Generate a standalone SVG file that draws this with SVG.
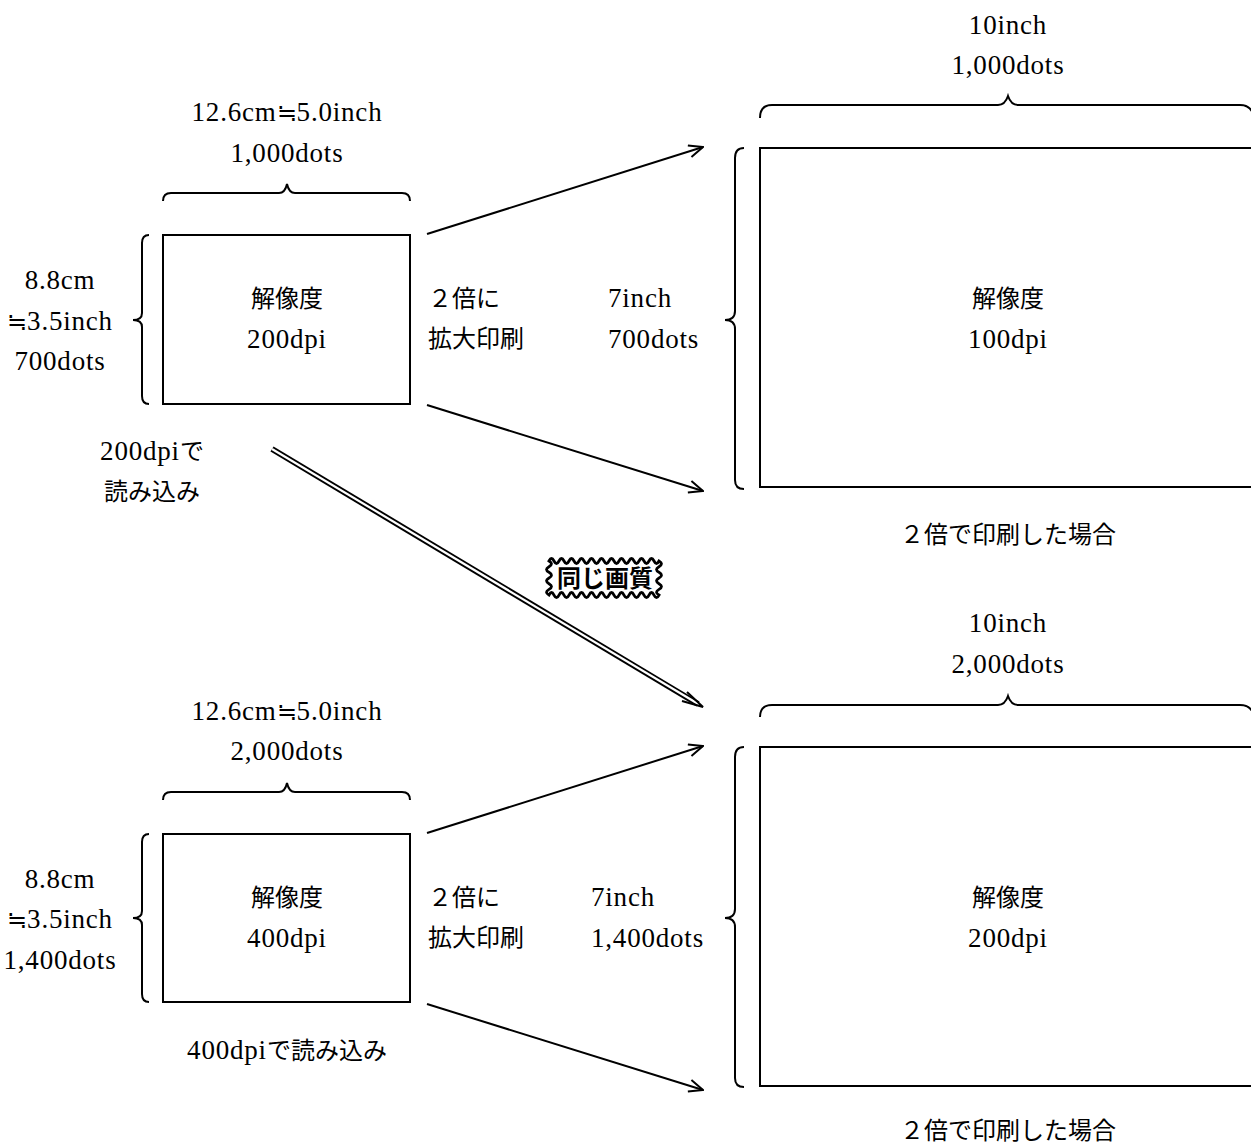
<svg xmlns="http://www.w3.org/2000/svg" width="1251" height="1144" viewBox="0 0 1251 1144">
<defs>
<style>
.t{font-family:"Liberation Serif","Noto Sans CJK JP",serif;font-size:24px;fill:#000}
.m{text-anchor:middle}
.l{font-size:27px;letter-spacing:0.8px}
.b{fill:none;stroke:#000;stroke-width:2}
.box{fill:#fff;stroke:#000;stroke-width:2}
.ar{fill:none;stroke:#000;stroke-width:2}
</style>
<marker id="open" viewBox="0 0 16 14" refX="15" refY="7" markerWidth="16" markerHeight="14" markerUnits="userSpaceOnUse" orient="auto">
<path d="M1,1 L15,7 L1,13" fill="none" stroke="#000" stroke-width="2"/>
</marker>
</defs>
<rect width="1251" height="1144" fill="#fff"/>

<g id="connectors">
<line class="ar" x1="427" y1="234" x2="703" y2="147" marker-end="url(#open)"/>
<line class="ar" x1="427" y1="405" x2="703" y2="491" marker-end="url(#open)"/>
<line class="ar" x1="427" y1="833" x2="703" y2="746" marker-end="url(#open)"/>
<line class="ar" x1="427" y1="1004" x2="703" y2="1090" marker-end="url(#open)"/>
<line x1="272" y1="449" x2="698" y2="704" stroke="#000" stroke-width="6"/>
<line x1="272" y1="449" x2="700" y2="705" stroke="#fff" stroke-width="2.2"/>
<path d="M687,692 L703,707 L682,701" fill="none" stroke="#000" stroke-width="2"/>
</g>

<g id="top-small">
<rect class="box" x="163" y="235" width="247" height="169"/>
<text class="t m" x="287" y="307">解像度</text>
<text class="t m l" x="287" y="348">200dpi</text>
<path class="b" d="M163,201 Q163,193 171,193 L279,193 Q285,193 287,184 Q289,193 295,193 L402,193 Q410,193 410,201"/>
<text class="t m" x="287" y="121"><tspan class="l">12.6cm</tspan>≒<tspan class="l">5.0inch</tspan></text>
<text class="t m l" x="287" y="162">1,000dots</text>
<path class="b" d="M149,235 Q142,235 142,243 L142,313 Q142,320 133,320 Q142,320 142,327 L142,396 Q142,404 149,404"/>
<text class="t m l" x="60" y="289">8.8cm</text>
<text class="t m" x="60" y="330">≒<tspan class="l">3.5inch</tspan></text>
<text class="t m l" x="60" y="370">700dots</text>
<text class="t m" x="152" y="460"><tspan class="l">200dpi</tspan>で</text>
<text class="t m" x="152" y="500">読み込み</text>
</g>

<g id="top-mid-labels">
<text class="t" x="428" y="307">２倍に</text>
<text class="t" x="428" y="347">拡大印刷</text>
<text class="t l" x="608" y="307">7inch</text>
<text class="t l" x="608" y="348">700dots</text>
</g>

<g id="top-large">
<rect class="box" x="760" y="148" width="500" height="339"/>
<text class="t m" x="1008" y="307">解像度</text>
<text class="t m l" x="1008" y="348">100dpi</text>
<path class="b" d="M760,118 Q760,105 772,105 L998,105 Q1005,105 1008,96 Q1011,105 1018,105 L1240,105 Q1252,105 1254,118"/>
<text class="t m l" x="1008" y="34">10inch</text>
<text class="t m l" x="1008" y="74">1,000dots</text>
<path class="b" d="M744,148 Q735,148 735,158 L735,311 Q735,320 725,320 Q735,320 735,329 L735,480 Q735,489 744,489"/>
<text class="t m" x="1008" y="543">２倍で印刷した場合</text>
</g>

<g id="same-quality">
<path fill="#fff" stroke="#000" stroke-width="2.8" d="M549,561 q2.5,-5 5,0 t5,0 t5,0 t5,0 t5,0 t5,0 t5,0 t5,0 t5,0 t5,0 t5,0 t5,0 t5,0 t5,0 t5,0 t5,0 t5,0 t5,0 t5,0 t5,0 t5,0 t5,0 q5,2.83 0,5.67 t0,5.67 t0,5.67 t0,5.67 t0,5.67 t0,5.67 q-2.5,5 -5,0 t-5,0 t-5,0 t-5,0 t-5,0 t-5,0 t-5,0 t-5,0 t-5,0 t-5,0 t-5,0 t-5,0 t-5,0 t-5,0 t-5,0 t-5,0 t-5,0 t-5,0 t-5,0 t-5,0 t-5,0 t-5,0 q-5,-2.83 0,-5.67 t0,-5.67 t0,-5.67 t0,-5.67 t0,-5.67 t0,-5.67 Z"/>
<text class="t m" x="605" y="587" font-weight="bold" font-size="25">同じ画質</text>
</g>

<g id="bottom-small">
<rect class="box" x="163" y="834" width="247" height="168"/>
<text class="t m" x="287" y="906">解像度</text>
<text class="t m l" x="287" y="947">400dpi</text>
<path class="b" d="M163,800 Q163,792 171,792 L279,792 Q285,792 287,783 Q289,792 295,792 L402,792 Q410,792 410,800"/>
<text class="t m" x="287" y="720"><tspan class="l">12.6cm</tspan>≒<tspan class="l">5.0inch</tspan></text>
<text class="t m l" x="287" y="760">2,000dots</text>
<path class="b" d="M149,834 Q142,834 142,842 L142,911 Q142,918 133,918 Q142,918 142,925 L142,994 Q142,1002 149,1002"/>
<text class="t m l" x="60" y="888">8.8cm</text>
<text class="t m" x="60" y="928">≒<tspan class="l">3.5inch</tspan></text>
<text class="t m l" x="60" y="969">1,400dots</text>
<text class="t m" x="287" y="1059"><tspan class="l">400dpi</tspan>で読み込み</text>
</g>

<g id="bottom-mid-labels">
<text class="t" x="428" y="906">２倍に</text>
<text class="t" x="428" y="946">拡大印刷</text>
<text class="t l" x="591" y="906">7inch</text>
<text class="t l" x="591" y="947">1,400dots</text>
</g>

<g id="bottom-large">
<rect class="box" x="760" y="747" width="500" height="339"/>
<text class="t m" x="1008" y="906">解像度</text>
<text class="t m l" x="1008" y="947">200dpi</text>
<path class="b" d="M760,717 Q760,705 772,705 L998,705 Q1005,705 1008,696 Q1011,705 1018,705 L1240,705 Q1252,705 1254,717"/>
<text class="t m l" x="1008" y="632">10inch</text>
<text class="t m l" x="1008" y="673">2,000dots</text>
<path class="b" d="M744,747 Q735,747 735,757 L735,909 Q735,918 725,918 Q735,918 735,927 L735,1078 Q735,1087 744,1087"/>
<text class="t m" x="1008" y="1139">２倍で印刷した場合</text>
</g>
</svg>
